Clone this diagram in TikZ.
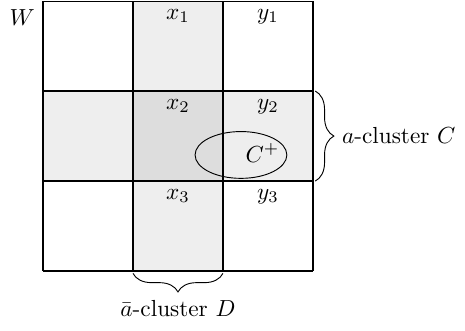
\documentclass[tikz,border=0pt]{standalone}
\usepackage{amsmath,amssymb}
\usetikzlibrary{decorations.pathreplacing}

\begin{document}
\begin{tikzpicture}[x=1.36cm,y=1.36cm,
  cellmark/.style={below},
  clusterbrace/.style={decorate,decoration={brace,amplitude=8pt,raise=1pt}}]
  \useasboundingbox (-0.478,-0.656) rectangle (4.69,3.012);
  % shaded strips of the two clusters
  \fill[gray!13] (1,0) rectangle (2,3);
  \fill[gray!13] (0,1) rectangle (3,2);
  \fill[gray!27] (1,1) rectangle (2,2);
  \draw[line width=0.5pt,step=1] (0,0) grid (3,3);
  \node[anchor=north east] (W) at (0,3) {$W$};
  \foreach \r/\n in {3/1,2/2,1/3} {
    \node[cellmark] (x\n) at (1.5,\r) {$x_\n$};
    \node[cellmark] (y\n) at (2.5,\r) {$y_\n$};
  }
  \draw (2.2,1.29) ellipse [x radius=0.51, y radius=0.26];
  \node (Cplus) at (2.44,1.31) {$C^{+}$};
  % braces
  \draw[clusterbrace] (3,2) -- (3,1) node[midway,right,xshift=9pt] (clusterC) {$a$-cluster $C$};
  \draw[clusterbrace] (2,0) -- (1,0) node[midway,below,yshift=-9pt] (clusterD) {$\bar{a}$-cluster $D$};
\end{tikzpicture}
\end{document}
